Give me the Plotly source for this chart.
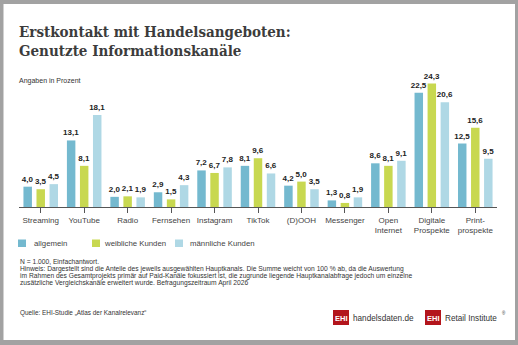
import plotly.graph_objects as go

categories = ["Streaming", "YouTube", "Radio", "Fernsehen", "Instagram", "TikTok",
              "(D)OOH", "Messenger", "Open<br>Internet", "Digitale<br>Prospekte", "Print-<br>prospekte"]
series_names = ["allgemein", "weibliche Kunden", "männliche Kunden"]
allgemein = [4.0, 13.1, 2.0, 2.9, 7.2, 8.1, 4.2, 1.3, 8.6, 22.5, 12.5]
weiblich = [3.5, 8.1, 2.1, 1.5, 6.7, 9.6, 5.0, 0.8, 8.1, 24.3, 15.6]
maennlich = [4.5, 18.1, 1.9, 4.3, 7.8, 6.6, 3.5, 1.9, 9.1, 20.6, 9.5]
colors = ["#74b9cf", "#c8d850", "#afd8e5"]

W, H = 518, 345
L, R, T, B = 19, 21, 80, 138
PW, PH = W - L - R, H - T - B

def xp(px):
    return (px - L) / PW

def yp(py):
    return 1 - (py - T) / PH

SANS = "Liberation Sans, Arial, sans-serif"

fig = go.Figure()
for name, vals, col in zip(series_names, [allgemein, weiblich, maennlich], colors):
    fig.add_trace(go.Bar(
        x=list(range(len(categories))), y=vals, name=name, marker_color=col,
        marker_line_width=0,
        texttemplate="%{y:.1f}", textposition="outside", cliponaxis=False,
        constraintext="none",
        textfont=dict(family=SANS, size=8, color="#222222", weight="bold"),
        showlegend=False,
    ))

shapes = [
    dict(type="rect", xref="paper", yref="paper", x0=xp(3.5), x1=xp(515), y0=yp(4), y1=yp(340),
         fillcolor="white", line_width=0, layer="below"),
]
ann = []
font_title = dict(family="DejaVu Serif Condensed, DejaVu Serif, serif", size=15, color="#3c3c3c", weight="bold")
ann.append(dict(text="Erstkontakt mit Handelsangeboten:", x=xp(17), y=yp(32), font=font_title))
ann.append(dict(text="Genutzte Informationskanäle", x=xp(17), y=yp(51), font=font_title))
ann.append(dict(text="Angaben in Prozent", x=xp(17), y=yp(81),
                font=dict(family=SANS, size=7, color="#333333")))

# legend
leg = [(18, 32), (92, 102), (175, 188)]
for (sx, tx), name, col in zip(leg, series_names, colors):
    shapes.append(dict(type="rect", xref="paper", yref="paper", x0=xp(sx), x1=xp(sx + 8),
                       y0=yp(239.5), y1=yp(247), fillcolor=col, line_width=0))
    ann.append(dict(text=name, x=xp(tx), y=yp(243.5),
                    font=dict(family=SANS, size=7.8, color="#444444")))

notes = [
    ("N = 1.000, Einfachantwort.", 261.5),
    ("Hinweis: Dargestellt sind die Anteile des jeweils ausgewählten Hauptkanals. Die Summe weicht von 100 % ab, da die Auswertung", 268.6),
    ("im Rahmen des Gesamtprojekts primär auf Paid-Kanäle fokussiert ist, die zugrunde liegende Hauptkanalabfrage jedoch um einzelne", 275.7),
    ("zusätzliche Vergleichskanäle erweitert wurde. Befragungszeitraum April 2026", 282.8),
]
for t, y in notes:
    ann.append(dict(text=t, x=xp(17.5), y=yp(y),
                    font=dict(family=SANS, size=6.7, color="#333333")))
ann.append(dict(text="Quelle: EHI-Studie „Atlas der Kanalrelevanz“", x=xp(17.5), y=yp(313),
                font=dict(family=SANS, size=6.4, color="#333333")))

# logos
red = "#b3151c"
for bx0, bx1, label, tx, sz in [(333, 349, "handelsdaten.de", 351, 8.2), (425, 441, "Retail Institute", 443, 8.2)]:
    shapes.append(dict(type="rect", xref="paper", yref="paper", x0=xp(bx0), x1=xp(bx1),
                       y0=yp(310), y1=yp(325), fillcolor=red, line_width=0))
    ann.append(dict(text="EHI", x=xp((bx0 + bx1) / 2), y=yp(318), xanchor="center",
                    font=dict(family=SANS, size=7.5, color="white", weight="bold")))
    ann.append(dict(text=label, x=xp(tx), y=yp(318),
                    font=dict(family=SANS, size=sz, color="#333333")))
ann.append(dict(text="®", x=xp(500), y=yp(313),
                font=dict(family=SANS, size=4.5, color="#333333")))

for a in ann:
    a.setdefault("xref", "paper")
    a.setdefault("yref", "paper")
    a.setdefault("xanchor", "left")
    a.setdefault("yanchor", "middle")
    a.setdefault("showarrow", False)

fig.update_layout(
    width=W, height=H, margin=dict(l=L, r=R, t=T, b=B, autoexpand=False),
    paper_bgcolor="#a2a2a2", plot_bgcolor="rgba(0,0,0,0)",
    barmode="group", bargap=0.10, bargroupgap=0.35,
    separators=",.",
    shapes=shapes, annotations=ann, showlegend=False,
    xaxis=dict(range=[-0.5, len(categories) - 0.5], tickmode="array",
               tickvals=list(range(len(categories))), ticktext=categories,
               tickson="boundaries", ticks="outside", ticklen=5, tickcolor="#555555",
               showline=True, linecolor="#555555", linewidth=1, showgrid=False, zeroline=False,
               tickfont=dict(family=SANS, size=8, color="#444444"),
               fixedrange=True),
    yaxis=dict(range=[0, 25], visible=False, fixedrange=True),
)
fig.write_html("out.html")
